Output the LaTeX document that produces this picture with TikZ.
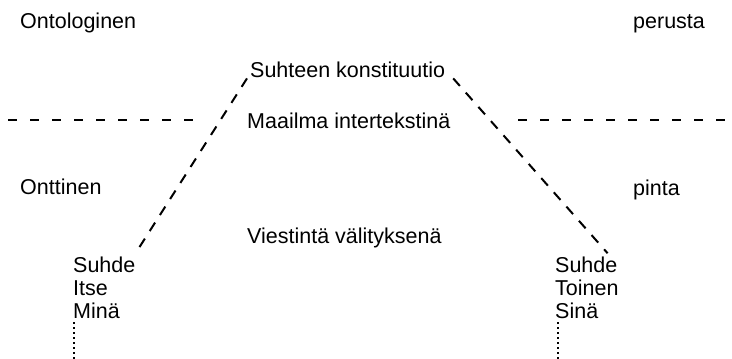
\documentclass[tikz,border=0pt]{standalone}
\usepackage{fontspec}
\setmainfont{Liberation Sans}
\begin{document}
\begin{tikzpicture}[x=1pt,y=-1pt,
  lbl/.style={anchor=base west,inner sep=0pt,font=\fontsize{21.5}{26}\selectfont},
  hdash/.style={line width=1.8pt,dash pattern=on 9pt off 13pt},
  diag/.style={line width=2pt,dash pattern=on 10pt off 9pt},
  dotline/.style={line width=2pt,dash pattern=on 1.5pt off 3.5pt}]
\useasboundingbox (0,0) rectangle (732,359);
\node[lbl] (onto) at (20,28) {Ontologinen};
\node[lbl] (perusta) at (633,28) {perusta};
\node[lbl] (konst) at (250,77) {Suhteen konstituutio};
\node[lbl] (maailma) at (247,128) {Maailma intertekstinä};
\node[lbl] (ontt) at (20,194) {Onttinen};
\node[lbl] (pinta) at (633,195) {pinta};
\node[lbl] (viest) at (247,243) {Viestintä välityksenä};
\node[lbl] (suhdeL) at (73,272) {Suhde};
\node[lbl] (itse) at (73,295) {Itse};
\node[lbl] (mina) at (73,318) {Minä};
\node[lbl] (suhdeR) at (555,272) {Suhde};
\node[lbl] (toinen) at (555,295) {Toinen};
\node[lbl] (sina) at (555,318) {Sinä};
\coordinate (hl1) at (8,120);
\coordinate (hl2) at (200,120);
\coordinate (hr1) at (518,120);
\coordinate (hr2) at (732,120);
\coordinate (dl) at (74,359);
\coordinate (dr) at (558,359);
\draw[hdash] (hl1) -- (hl2);
\draw[hdash] (hr1) -- (hr2);
\draw[diag] ([shift={(-3,1)}]konst.south west) -- ([shift={(0,-3)}]suhdeL.north east);
\draw[diag] ([shift={(8,1)}]konst.south east) -- ([shift={(-10,-3)}]suhdeR.north east);
\draw[dotline] ([shift={(1,4)}]mina.south west) -- (dl);
\draw[dotline] ([shift={(3,4)}]sina.south west) -- (dr);
\end{tikzpicture}
\end{document}
